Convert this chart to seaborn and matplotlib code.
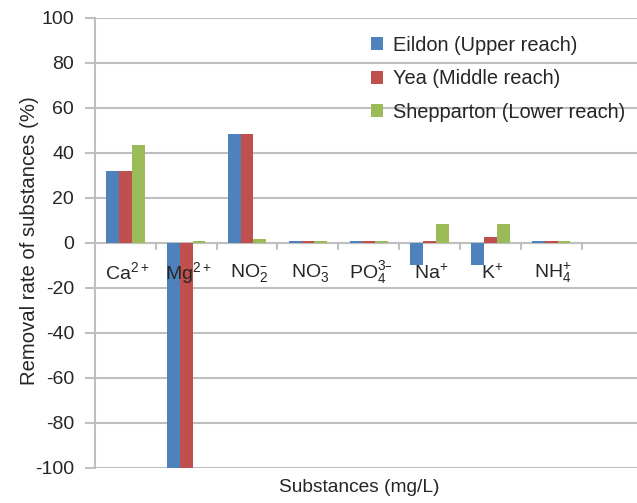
import matplotlib
matplotlib.use("Agg")
import matplotlib.pyplot as plt
import seaborn as sns
import pandas as pd
from matplotlib.patches import Patch

categories = ["Ca", "Mg", "NO2", "NO3", "PO4", "Na", "K", "NH4"]
cat_labels = [r"Ca$^{2+}$", r"Mg$^{2+}$", "NO$_2^{\u2013}$", "NO$_3^{\u2013}$",
              "PO$_4^{3\u2013}$", r"Na$^{+}$", r"K$^{+}$", r"NH$_4^{+}$"]
sites = ["Eildon (Upper reach)", "Yea (Middle reach)", "Shepparton (Lower reach)"]
eildon = [31.7, -100, 48.5, 1, 1, -9.8, -9.8, 1]
yea = [31.7, -100, 48.5, 1, 1, 0.9, 2.5, 1]
shepparton = [43.5, 1, 1.5, 1, 1, 8.2, 8.2, 1]
yticks = [-100, -80, -60, -40, -20, 0, 20, 40, 60, 80, 100]
colors = ["#4F81BD", "#C0504D", "#9BBB59"]

rows = []
for s, vals in zip(sites, [eildon, yea, shepparton]):
    for c, v in zip(categories, vals):
        rows.append({"substance": c, "site": s, "value": v})
df = pd.DataFrame(rows)

sns.set_theme(style="white")
plt.rcParams["font.family"] = ["Liberation Sans", "DejaVu Sans"]
plt.rcParams["mathtext.default"] = "regular"

fig = plt.figure(figsize=(6.37, 5.03), dpi=100)
ax = fig.add_axes([95 / 637, 1 - 468 / 503, 1 - 95 / 637, (468 - 17.7) / 503])

sns.barplot(data=df, x="substance", y="value", hue="site", order=categories,
            hue_order=sites, palette=colors, width=0.63, saturation=1,
            linewidth=0, ax=ax, legend=False, errorbar=None, zorder=3)

ax.set_ylim(-100, 100)
ax.set_xlim(-0.5, 8.41)
ax.set_yticks(yticks)
ax.set_yticklabels([str(t) for t in yticks], fontsize=14)
ax.tick_params(axis="y", length=7, color="#BFBFBF", width=1.5, pad=8, left=True)
ax.yaxis.grid(True, color="#BFBFBF", linewidth=1.5, zorder=0)
ax.set_axisbelow(True)
for sp in ["top", "right", "bottom"]:
    ax.spines[sp].set_visible(False)
ax.spines["left"].set_color("#BFBFBF")
ax.spines["left"].set_linewidth(1.5)

# x-axis line at zero with boundary ticks
ax.set_xticks([])
ax.axhline(0, color="#BFBFBF", linewidth=1.5, zorder=2)
for b in range(1, 9):
    ax.plot([b - 0.5, b - 0.5], [0, -2.7], color="#BFBFBF", linewidth=1.5,
            zorder=2, clip_on=False)
for i, lab in enumerate(cat_labels):
    ax.text(i + 0.03, -13.2, lab, ha="center", va="center", fontsize=14, zorder=5)

ax.set_xlabel("")
ax.set_ylabel("")
fig.text(359 / 637, 1 - 488 / 503, "Substances (mg/L)", ha="center",
         va="center", fontsize=13.8)
fig.text(30 / 637, 1 - 241 / 503, "Removal rate of substances (%)",
         ha="center", va="center", rotation=90, fontsize=14.6)

handles = [Patch(facecolor=c, edgecolor="none") for c in colors]
leg = ax.legend(handles, sites, loc="upper left",
                bbox_to_anchor=(361 / 637, 1 - 26 / 503),
                bbox_transform=fig.transFigure, frameon=False, fontsize=14.4,
                handlelength=0.62, handleheight=0.62, handletextpad=0.5,
                labelspacing=0.72, borderpad=0)

fig.savefig("out.png", dpi=100)
